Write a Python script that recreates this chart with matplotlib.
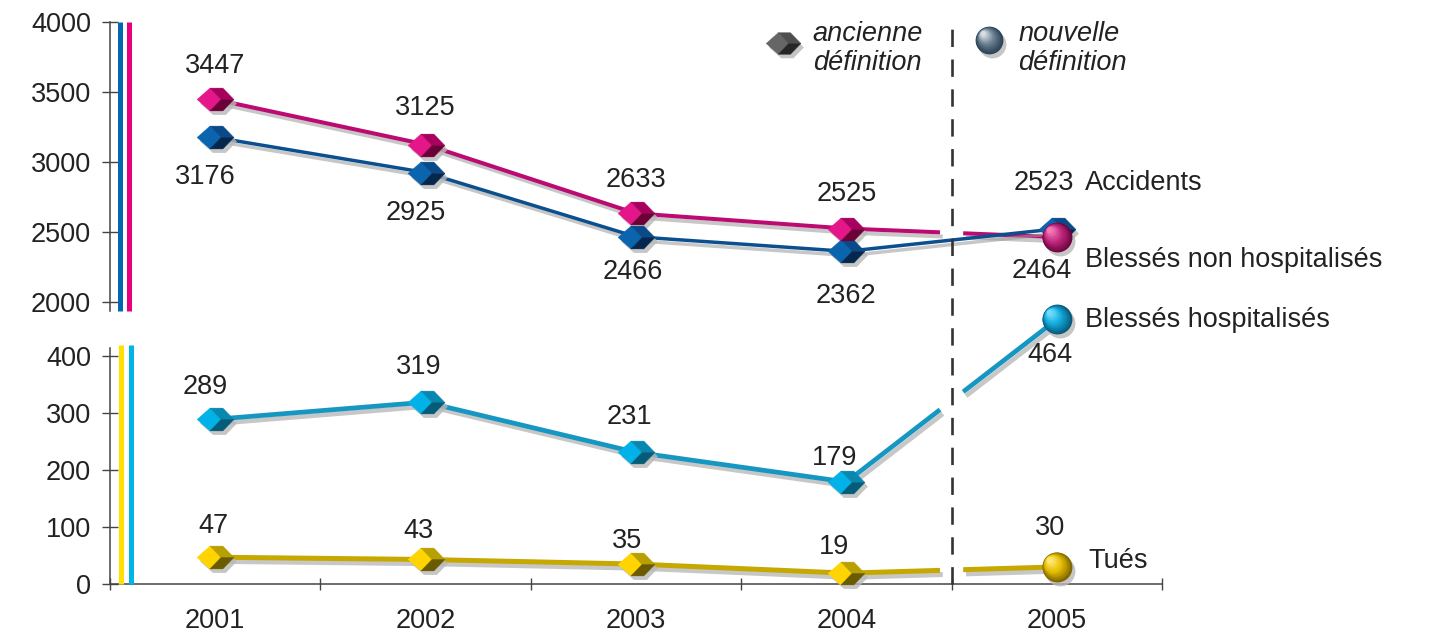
import numpy as np
import matplotlib
matplotlib.use('Agg')
import matplotlib.pyplot as plt
from matplotlib.path import Path
from matplotlib.lines import Line2D
import matplotlib.patheffects as pe
from matplotlib.transforms import offset_copy, blended_transform_factory
from matplotlib.colors import to_rgb

plt.rcParams['font.family'] = ['Liberation Sans', 'DejaVu Sans']
plt.rcParams['lines.scale_dashes'] = False

# ---------------- data ----------------
years = ['2001', '2002', '2003', '2004', '2005']
accidents = [3176, 2925, 2466, 2362, 2523]
blesses_non_hosp = [3447, 3125, 2633, 2525, 2464]
blesses_hosp = [289, 319, 231, 179, 464]
tues = [47, 43, 35, 19, 30]
top_ticks = [2000, 2500, 3000, 3500, 4000]
bottom_ticks = [0, 100, 200, 300, 400]
series_names = ['Accidents', 'Blessés non hospitalisés', 'Blessés hospitalisés', 'Tués']
legend_old = 'ancienne\ndéfinition'
legend_new = 'nouvelle\ndéfinition'

TXT = '#222222'
AXC = '#444444'
FS = 19.5

fig = plt.figure(figsize=(14.33, 6.36), dpi=100)
L, W = 110 / 1433, 1052 / 1433
ax1 = fig.add_axes([L, 325 / 636, W, 289 / 636])
ax2 = fig.add_axes([L, 52 / 636, W, 236 / 636])

x = np.arange(len(years))
for ax in (ax1, ax2):
    ax.set_xlim(-0.5, 4.5)
    for s in ('top', 'right'):
        ax.spines[s].set_visible(False)
    ax.spines['left'].set_color(AXC)
    ax.spines['left'].set_linewidth(1.1)
    ax.tick_params(axis='y', direction='inout', length=11.5, width=1.0,
                   color=AXC, labelsize=FS, labelcolor=TXT, pad=8)
    ax.patch.set_alpha(0)

ax1.set_ylim(1936, 4000)
ax1.set_yticks(top_ticks)
ax1.spines['bottom'].set_visible(False)
ax1.set_xticks([])

ax2.set_ylim(0, 414)
ax2.set_yticks(bottom_ticks)
ax2.spines['bottom'].set_color(AXC)
ax2.spines['bottom'].set_linewidth(1.1)
ax2.set_xticks(np.arange(-0.5, 5, 1.0))
ax2.set_xticklabels([])
ax2.tick_params(axis='x', which='major', direction='inout', length=8.5, width=1.0, color=AXC)
ax2.set_xticks(x, minor=True)
ax2.set_xticklabels(years, minor=True)
ax2.tick_params(axis='x', which='minor', length=0, labelsize=FS, labelcolor=TXT, pad=17)

# coloured bars next to the y axes
def vbar(ax, xa, color, y0=0, y1=1):
    ax.add_line(Line2D([xa, xa], [y0, y1], transform=ax.transAxes, color=color,
                       lw=3.6, solid_capstyle='butt', clip_on=False, zorder=3))

vbar(ax1, 0.0095, '#0068b0')
vbar(ax1, 0.018, '#e6007e')
vbar(ax2, 0.0105, '#ffe000', 0, 1.013)
vbar(ax2, 0.0195, '#00b4e6', 0, 1.013)

# dashed separator
bt = blended_transform_factory(ax2.transData, fig.transFigure)
fig.add_artist(Line2D([3.5, 3.5], [52 / 636, 617 / 636], transform=bt, color='#333333',
                      lw=1.9, dashes=(12.5, 9.0), zorder=1))

# ---------------- lines ----------------
shadow = [pe.SimpleLineShadow(offset=(2, -3), shadow_color='#9a9a9a', alpha=0.55), pe.Normal()]
G0, G1 = 3.445, 3.555

def draw_line(ax, vals, color, lw, gap):
    v = np.asarray(vals, float)
    if not gap:
        ax.plot(x, v, color=color, lw=lw, solid_capstyle='butt', path_effects=shadow,
                zorder=4, clip_on=False)
        return
    ya = v[3] + (v[4] - v[3]) * (G0 - 3)
    yb = v[3] + (v[4] - v[3]) * (G1 - 3)
    ax.plot(list(x[:4]) + [G0], list(v[:4]) + [ya], color=color, lw=lw,
            solid_capstyle='butt', path_effects=shadow, zorder=4, clip_on=False)
    ax.plot([G1, 4], [yb, v[4]], color=color, lw=lw, solid_capstyle='butt',
            path_effects=shadow, zorder=4, clip_on=False)

draw_line(ax1, blesses_non_hosp, '#bb0a72', 2.9, True)
draw_line(ax1, accidents, '#0b4f8e', 2.5, False)
draw_line(ax2, blesses_hosp, '#1697c2', 3.4, True)
draw_line(ax2, tues, '#c6a800', 3.6, True)

# ---------------- markers ----------------
FRONT = Path([(-1, 0), (-0.3, 0.62), (0.3, 0), (-0.3, -0.62), (-1, 0)])
TOP = Path([(-0.3, 0.62), (0.4, 0.62), (1, 0), (0.3, 0), (-0.3, 0.62)])
BOT = Path([(0.3, 0), (1, 0), (0.4, -0.62), (-0.3, -0.62), (0.3, 0)])
HEX = Path([(-1, 0), (-0.3, 0.62), (0.4, 0.62), (1, 0), (0.4, -0.62), (-0.3, -0.62), (-1, 0)])

def cubes(ax, xs, ys, front, top, bot, ms=26.5):
    sh = offset_copy(ax.transData, fig=fig, x=3, y=-4, units='dots')
    ax.plot(xs, ys, ls='none', marker=HEX, ms=ms, mfc='#b8b8b8', mec='none',
            transform=sh, zorder=5, clip_on=False, alpha=0.8)
    for p, c in ((FRONT, front), (TOP, top), (BOT, bot)):
        ax.plot(xs, ys, ls='none', marker=p, ms=ms, mfc=c, mec=c, mew=0.3,
                zorder=6, clip_on=False)

def sphere(ax, xv, yv, dark, base, light, ms=21.5, n=14):
    sh = offset_copy(ax.transData, fig=fig, x=3, y=-4, units='dots')
    ax.plot([xv], [yv], ls='none', marker='o', ms=ms, mfc='#b8b8b8', mec='none',
            transform=sh, zorder=5, clip_on=False, alpha=0.8)
    d, b, l = (np.array(to_rgb(c)) for c in (dark, base, light))
    for i in range(n):
        t = i / (n - 1)
        if t < 0.5:
            col = d + (b - d) * (t / 0.5)
        else:
            col = b + (l - b) * ((t - 0.5) / 0.5)
        size = ms * (1 - 0.82 * t)
        off = (ms - size) * 0.30 * 1.389
        tr = offset_copy(ax.transData, fig=fig, x=-off, y=off, units='dots')
        ax.plot([xv], [yv], ls='none', marker='o', ms=size, mfc=tuple(col), mec='none',
                transform=tr, zorder=6 + i * 0.01, clip_on=False)

cubes(ax1, x, accidents, '#0a64ae', '#0a4a8a', '#05264d')
cubes(ax1, x[:4], blesses_non_hosp[:4], '#e5168a', '#a8005e', '#6a0036')
sphere(ax1, x[4], blesses_non_hosp[4], '#6e0640', '#c2287f', '#f27ab8')
cubes(ax2, x[:4], blesses_hosp[:4], '#00b2e8', '#0888b0', '#045c78')
sphere(ax2, x[4], blesses_hosp[4], '#0a5a7a', '#10a8dc', '#70dcfa')
cubes(ax2, x[:4], tues[:4], '#ffd400', '#b8a000', '#6a5a00')
sphere(ax2, x[4], tues[4], '#806800', '#e6be00', '#ffe870')

# legend icons
cubes(ax1, [2.70], [3850], '#666666', '#4e4e4e', '#262626', ms=25)
sphere(ax1, 3.68, 3871, '#2a4052', '#6a7f90', '#d6dde3', ms=20)
ax1.text(2.84, 3810, legend_old, fontsize=FS, style='italic', color=TXT,
         ha='left', va='center', linespacing=1.12, clip_on=False)
ax1.text(3.816, 3810, legend_new, fontsize=FS, style='italic', color=TXT,
         ha='left', va='center', linespacing=1.12, clip_on=False)

# ---------------- value labels ----------------
def labels(ax, vals, offs):
    for xi, v, (dx, dy) in zip(x, vals, offs):
        ax.annotate(str(v), (xi, v), xytext=(dx, dy), textcoords='offset pixels',
                    ha='center', va='center', fontsize=FS, color=TXT,
                    annotation_clip=False, zorder=8)

labels(ax1, blesses_non_hosp, [(0, 33), (0, 37), (0, 33), (0, 35), (-15, -34)])
labels(ax1, accidents, [(-10, -40), (-10, -40), (-3, -35), (0, -45), (-13, 46)])
labels(ax2, blesses_hosp, [(-10, 32), (-7, 35), (-7, 35), (-12, 24), (-7, -36)])
labels(ax2, tues, [(-2, 31), (-7, 28), (-9, 23), (-12, 26), (-7, 39)])

# series names
ax1.text(4.134, 2850, series_names[0], fontsize=FS, color=TXT, ha='left', va='center', clip_on=False)
ax1.text(4.134, 2300, series_names[1], fontsize=FS, color=TXT, ha='left', va='center', clip_on=False)
ax2.text(4.134, 463, series_names[2], fontsize=FS, color=TXT, ha='left', va='center', clip_on=False)
ax2.text(4.148, 40, series_names[3], fontsize=FS, color=TXT, ha='left', va='center', clip_on=False)

fig.savefig('out.png', dpi=100)
